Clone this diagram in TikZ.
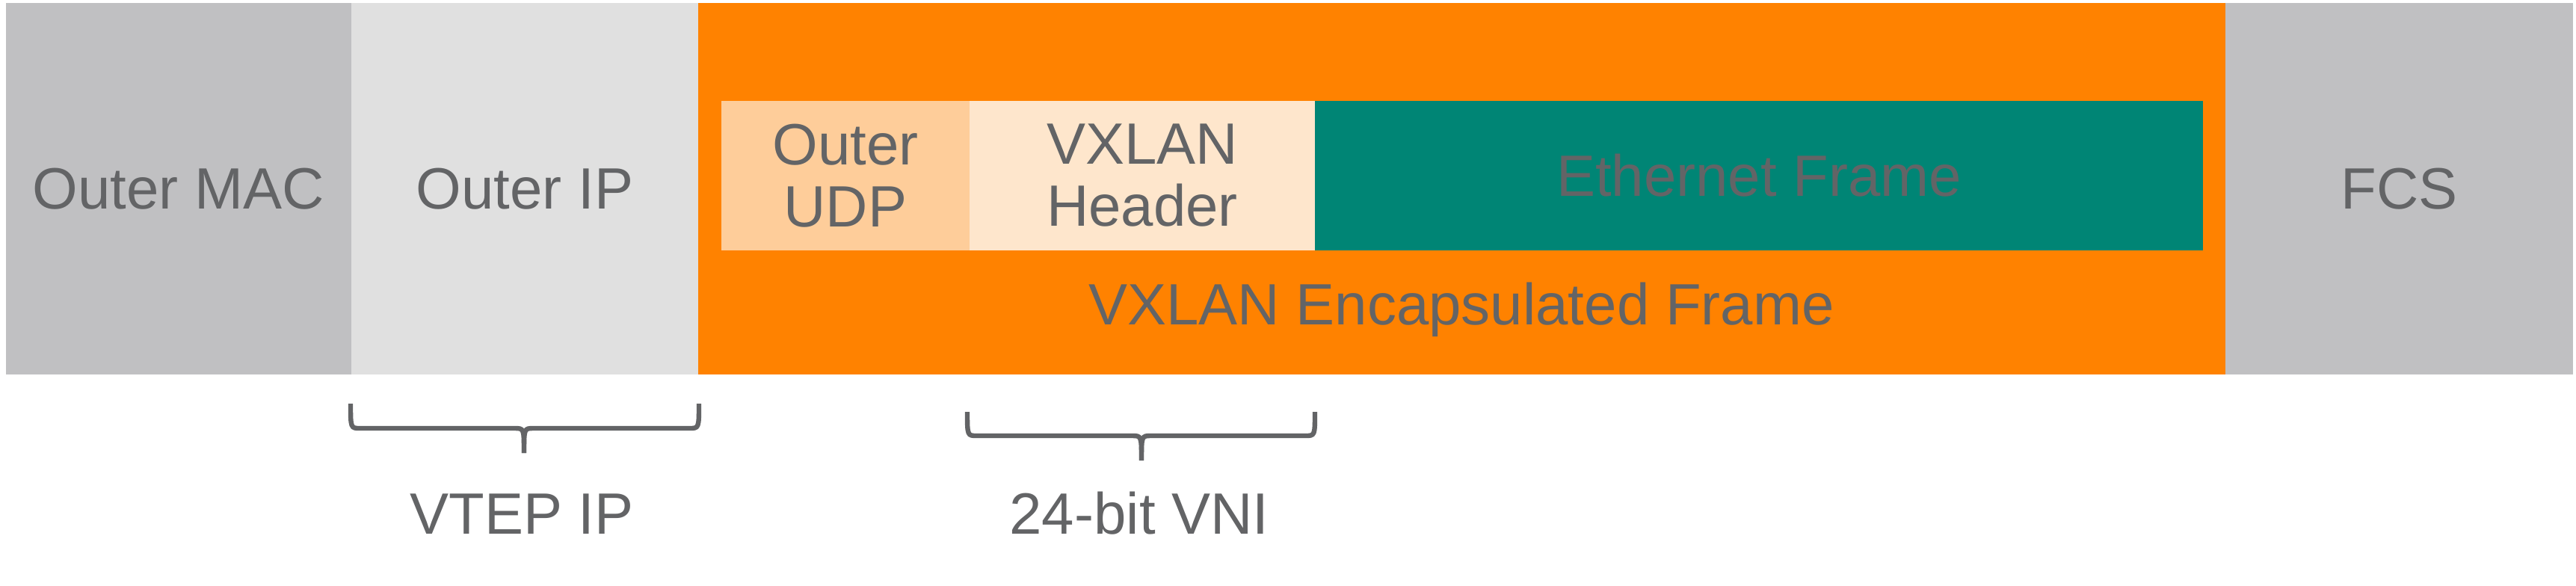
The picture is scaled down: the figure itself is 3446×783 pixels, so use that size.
\documentclass[tikz,border=0pt]{standalone}
\usepackage{fontspec}
\setmainfont{Liberation Sans}
\definecolor{macgray}{HTML}{C0C0C2}
\definecolor{ipgray}{HTML}{E0E0E0}
\definecolor{vxorange}{HTML}{FF8200}
\definecolor{udporange}{HTML}{FECD9A}
\definecolor{hdrorange}{HTML}{FEE6CC}
\definecolor{ethteal}{HTML}{008575}
\definecolor{txtgray}{HTML}{636466}
\begin{document}
\begin{tikzpicture}[x=0.25pt,y=-0.25pt]
\tikzset{
  fieldbox/.style={draw=none, inner sep=0pt, outer sep=0pt, anchor=north west,
    text=txtgray, font=\fontsize{19.5}{20.75}\selectfont, align=center},
  labeltext/.style={inner sep=0pt, text=txtgray, font=\fontsize{19.5}{20.75}\selectfont, align=center},
  bracebar/.style={draw=txtgray, line width=1.6pt}
}
\useasboundingbox (0,0) rectangle (3446,783);
% outer fields
\node[fieldbox, fill=macgray, minimum width=115.6pt, minimum height=124.25pt] (mac) at (7.7,4) {Outer MAC};
\node[fieldbox, fill=ipgray, minimum width=116pt, minimum height=124.25pt] (ip) at (470,4) {Outer IP};
\node[fieldbox, fill=vxorange, minimum width=510.75pt, minimum height=124.25pt] (vx) at (934,4) {};
\node[fieldbox, fill=macgray, minimum width=116.25pt, minimum height=124.25pt] (fcs) at (2977,4) {FCS};
% inner fields
\node[fieldbox, fill=udporange, minimum width=83pt, minimum height=50pt] (udp) at (965,135) {Outer\\UDP};
\node[fieldbox, fill=hdrorange, minimum width=115.5pt, minimum height=50pt] (hdr) at (1297,135) {VXLAN\\Header};
\node[fieldbox, fill=ethteal, minimum width=297pt, minimum height=50pt] (eth) at (1759,135) {Ethernet Frame};
\node[labeltext] (vxlabel) at (1955,414) {VXLAN Encapsulated Frame};
% braces
\coordinate (b1l) at (469,540);
\coordinate (b1r) at (935,540);
\coordinate (b1t) at (701,606);
\draw[bracebar] (b1l) .. controls (469,573) .. (482,573) -- (688,573) .. controls (701,573) .. (b1t);
\draw[bracebar] (b1r) .. controls (935,573) .. (922,573) -- (714,573) .. controls (701,573) .. (b1t);
\node[labeltext] (vtep) at (698,688) {VTEP IP};
\coordinate (b2l) at (1294,551);
\coordinate (b2r) at (1759,551);
\coordinate (b2t) at (1527,616);
\draw[bracebar] (b2l) .. controls (1294,583) .. (1307,583) -- (1514,583) .. controls (1527,583) .. (b2t);
\draw[bracebar] (b2r) .. controls (1759,583) .. (1746,583) -- (1540,583) .. controls (1527,583) .. (b2t);
\node[labeltext] (vni) at (1524,687) {24-bit VNI};
\end{tikzpicture}
\end{document}
